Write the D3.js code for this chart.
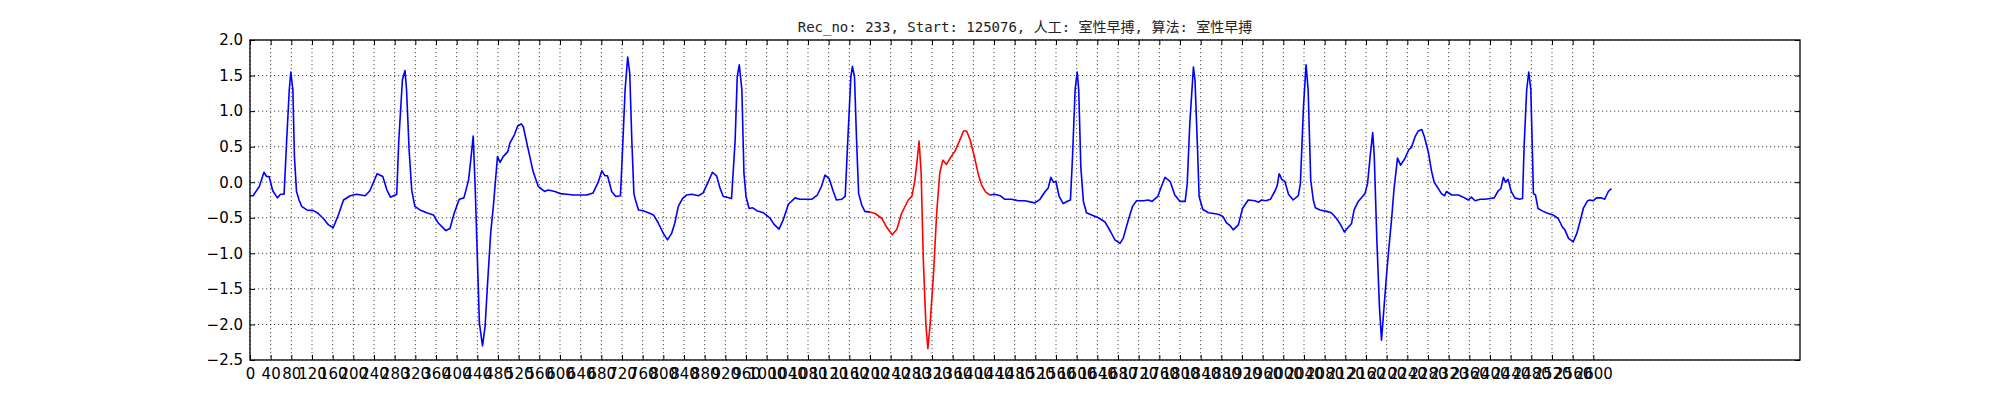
<!DOCTYPE html>
<html>
<head>
<meta charset="utf-8">
<script src="https://cdn.jsdelivr.net/npm/d3@7"></script>
<style>
  body { margin: 0; background: #fff; }
  svg { display: block; }
</style>
</head>
<body>
<svg id="chart" width="2000" height="400"></svg>
<script>
// sample index of each point
const sampleIdx = [
  0, 6, 18, 27, 32, 37, 44, 53, 59, 66, 71, 76, 79, 83, 86, 90, 95, 100, 110, 123,
  132, 142, 152, 161, 171, 181, 194, 206, 223, 232, 246, 257, 265, 272, 284, 288, 295, 300, 303, 308,
  313, 319, 329, 342, 355, 364, 379, 387, 395, 405, 414, 423, 428, 432, 436, 440, 444, 450, 455, 460,
  466, 471, 479, 484, 490, 499, 503, 512, 518, 525, 529, 537, 548, 558, 570, 577, 590, 600, 613, 626,
  639, 652, 664, 674, 681, 687, 692, 700, 708, 717, 721, 726, 731, 735, 739, 743, 746, 752, 761, 771,
  781, 790, 800, 808, 816, 822, 829, 837, 845, 855, 868, 877, 886, 895, 903, 910, 916, 923, 932, 939,
  943, 947, 952, 956, 960, 966, 973, 981, 994, 1006, 1014, 1024, 1032, 1042, 1055, 1064, 1077, 1087, 1098, 1106,
  1113, 1121, 1129, 1135, 1145, 1152, 1157, 1163, 1166, 1170, 1174, 1178, 1184, 1190, 1200, 1210, 1223, 1232, 1243, 1252,
  1261, 1274, 1281, 1287, 1292, 1295, 1299, 1303, 1308, 1312, 1316, 1323, 1329, 1335, 1341, 1348, 1357, 1364, 1372, 1381,
  1387, 1394, 1402, 1410, 1416, 1424, 1432, 1441, 1452, 1461, 1474, 1487, 1500, 1519, 1529, 1539, 1545, 1550, 1555, 1560,
  1566, 1574, 1584, 1588, 1592, 1597, 1601, 1604, 1608, 1613, 1619, 1629, 1642, 1655, 1666, 1674, 1684, 1690, 1700, 1708,
  1716, 1729, 1739, 1746, 1757, 1764, 1771, 1781, 1790, 1800, 1810, 1814, 1819, 1826, 1829, 1834, 1837, 1844, 1855, 1865,
  1874, 1883, 1890, 1897, 1903, 1913, 1921, 1932, 1945, 1952, 1958, 1966, 1975, 1984, 1988, 1992, 1997, 2003, 2010, 2019,
  2029, 2033, 2039, 2044, 2048, 2053, 2058, 2062, 2071, 2084, 2093, 2103, 2111, 2118, 2126, 2132, 2137, 2145, 2152, 2158,
  2163, 2168, 2173, 2176, 2181, 2186, 2190, 2195, 2200, 2204, 2210, 2214, 2221, 2227, 2235, 2243, 2248, 2255, 2261, 2268,
  2273, 2281, 2287, 2292, 2300, 2306, 2312, 2316, 2326, 2339, 2348, 2358, 2364, 2371, 2381, 2390, 2400, 2408, 2416, 2421,
  2426, 2430, 2435, 2441, 2448, 2457, 2463, 2466, 2471, 2475, 2479, 2482, 2484, 2488, 2493, 2503, 2513, 2522, 2532, 2540,
  2545, 2552, 2561, 2568, 2574, 2581, 2589, 2593, 2600, 2606, 2616, 2622, 2629, 2635
];

// ECG amplitude at those samples
const ecgValues = [
  -0.19, -0.19, -0.06, 0.14, 0.08, 0.08, -0.12, -0.22, -0.17, -0.17, 0.59, 1.30, 1.55, 1.30, 0.36, -0.13, -0.25, -0.34, -0.39, -0.40,
  -0.44, -0.51, -0.60, -0.64, -0.46, -0.25, -0.19, -0.17, -0.19, -0.12, 0.12, 0.08, -0.11, -0.21, -0.17, 0.59, 1.44, 1.57, 1.30, 0.45,
  -0.11, -0.34, -0.39, -0.43, -0.46, -0.57, -0.68, -0.65, -0.44, -0.24, -0.22, 0.03, 0.36, 0.65, -0.11, -1.05, -1.98, -2.30, -2.03, -1.40,
  -0.70, -0.34, 0.36, 0.28, 0.36, 0.43, 0.55, 0.67, 0.79, 0.82, 0.78, 0.51, 0.15, -0.06, -0.13, -0.11, -0.13, -0.16, -0.17, -0.18,
  -0.18, -0.18, -0.15, 0.00, 0.16, 0.09, 0.09, -0.13, -0.20, -0.19, 0.45, 1.30, 1.76, 1.53, 0.59, -0.16, -0.25, -0.39, -0.40, -0.43,
  -0.46, -0.57, -0.72, -0.81, -0.72, -0.58, -0.34, -0.23, -0.18, -0.17, -0.19, -0.15, -0.01, 0.14, 0.09, -0.09, -0.20, -0.21, -0.23, 0.59,
  1.48, 1.65, 1.30, 0.13, -0.20, -0.37, -0.36, -0.40, -0.43, -0.50, -0.59, -0.66, -0.53, -0.31, -0.22, -0.24, -0.24, -0.24, -0.18, -0.06,
  0.10, 0.05, -0.13, -0.25, -0.24, -0.20, 0.59, 1.48, 1.63, 1.48, 0.59, -0.16, -0.32, -0.41, -0.42, -0.44, -0.51, -0.63, -0.74, -0.66,
  -0.44, -0.25, -0.20, 0.03, 0.36, 0.58, 0.13, -1.05, -1.98, -2.34, -2.03, -1.28, -0.44, 0.13, 0.31, 0.25, 0.36, 0.43, 0.56, 0.72,
  0.72, 0.59, 0.36, 0.10, -0.04, -0.14, -0.18, -0.17, -0.19, -0.24, -0.24, -0.26, -0.26, -0.29, -0.24, -0.13, -0.08, 0.07, 0.00, 0.01,
  -0.20, -0.30, -0.26, -0.25, 0.36, 1.30, 1.55, 1.30, 0.22, -0.27, -0.43, -0.46, -0.50, -0.56, -0.70, -0.81, -0.86, -0.79, -0.53, -0.34,
  -0.26, -0.26, -0.25, -0.27, -0.20, -0.06, 0.07, 0.01, -0.18, -0.27, -0.27, -0.02, 0.83, 1.62, 1.44, 0.45, -0.20, -0.38, -0.43, -0.44,
  -0.45, -0.48, -0.57, -0.61, -0.67, -0.60, -0.37, -0.25, -0.26, -0.28, -0.25, -0.26, -0.24, -0.12, -0.05, 0.12, 0.04, 0.01, -0.17, -0.25,
  -0.19, -0.02, 1.06, 1.65, 1.30, 0.03, -0.25, -0.36, -0.39, -0.41, -0.43, -0.51, -0.60, -0.70, -0.63, -0.58, -0.39, -0.27, -0.21, -0.16,
  -0.02, 0.36, 0.70, 0.36, -0.81, -1.75, -2.22, -1.75, -1.28, -0.95, -0.48, -0.11, 0.34, 0.24, 0.33, 0.46, 0.49, 0.64, 0.72, 0.74,
  0.64, 0.41, 0.15, 0.00, -0.09, -0.16, -0.19, -0.13, -0.18, -0.18, -0.21, -0.25, -0.21, -0.26, -0.24, -0.24, -0.23, -0.22, -0.12, -0.09,
  0.07, 0.00, 0.04, -0.13, -0.22, -0.24, -0.23, 0.50, 1.30, 1.55, 1.30, 0.45, -0.16, -0.18, -0.37, -0.41, -0.44, -0.46, -0.51, -0.63,
  -0.67, -0.79, -0.84, -0.72, -0.56, -0.36, -0.26, -0.25, -0.26, -0.22, -0.22, -0.24, -0.13, -0.09
];

// beat flagged by both annotator and algorithm (drawn red)
const pvcStart = 1200;
const pvcEnd = 1432;

const xTicks = d3.range(0, 2640, 40);
const yTicks = [-2.5, -2.0, -1.5, -1.0, -0.5, 0.0, 0.5, 1.0, 1.5, 2.0];
const titleText = 'Rec_no: 233, Start: 125076, 人工: 室性早搏, 算法: 室性早搏';

const margin = { top: 40, right: 200, bottom: 40, left: 250 };
const width = 2000 - margin.left - margin.right;
const height = 400 - margin.top - margin.bottom;

const svg = d3.select('#chart');
const g = svg.append('g').attr('transform', `translate(${margin.left},${margin.top})`);

const x = d3.scaleLinear().domain([0, 3000]).range([0, width]);
const y = d3.scaleLinear().domain([-2.5, 2.0]).range([height, 0]);

// dotted grid
const grid = g.append('g')
  .attr('stroke', '#000')
  .attr('stroke-opacity', 0.8)
  .attr('stroke-width', 0.9)
  .attr('stroke-dasharray', '1.2,2.8');
grid.selectAll('.gx').data(xTicks).enter().append('line')
  .attr('x1', d => x(d)).attr('x2', d => x(d))
  .attr('y1', 0).attr('y2', height);
grid.selectAll('.gy').data(yTicks).enter().append('line')
  .attr('x1', 0).attr('x2', width)
  .attr('y1', d => y(d)).attr('y2', d => y(d));

// signal: blue before and after the flagged beat, red across it
const points = sampleIdx.map((s, i) => ({ s: s, v: ecgValues[i] }));
const segments = [
  { color: '#0000ff', pts: points.filter(d => d.s <= pvcStart) },
  { color: '#0000ff', pts: points.filter(d => d.s >= pvcEnd) },
  { color: '#ff0000', pts: points.filter(d => d.s >= pvcStart && d.s <= pvcEnd) }
];

const line = d3.line().x(d => x(d.s)).y(d => y(d.v));

g.append('g').selectAll('path')
  .data(segments)
  .enter().append('path')
  .attr('fill', 'none')
  .attr('stroke', d => d.color)
  .attr('stroke-width', 1.6)
  .attr('stroke-linejoin', 'round')
  .attr('d', d => line(d.pts));

// axes, ticks pointing inward on all four sides
const font = '"DejaVu Sans", sans-serif';

const xAxis = g.append('g')
  .attr('transform', `translate(0,${height})`)
  .call(d3.axisBottom(x).tickValues(xTicks).tickFormat(d3.format('d')).tickSize(-5).tickPadding(8));
const yAxis = g.append('g')
  .call(d3.axisLeft(y).tickValues(yTicks).tickFormat(d3.format('.1f')).tickSize(-5).tickPadding(7));
g.append('g')
  .call(d3.axisTop(x).tickValues(xTicks).tickFormat('').tickSize(-5));
g.append('g')
  .attr('transform', `translate(${width},0)`)
  .call(d3.axisRight(y).tickValues(yTicks).tickFormat('').tickSize(-5));

g.selectAll('.domain').remove();
g.selectAll('.tick line').attr('stroke', '#000').attr('stroke-width', 1);
[xAxis, yAxis].forEach(a => a.selectAll('text')
  .attr('fill', '#000')
  .style('font-family', font)
  .style('font-size', '15px'));

g.append('rect')
  .attr('width', width)
  .attr('height', height)
  .attr('fill', 'none')
  .attr('stroke', '#000')
  .attr('stroke-width', 1.3);

svg.append('text')
  .attr('x', margin.left + width / 2)
  .attr('y', 32)
  .attr('text-anchor', 'middle')
  .attr('fill', '#222')
  .style('font-family', '"DejaVu Sans Mono", "Liberation Mono", "Noto Sans CJK SC", monospace')
  .style('font-size', '14px')
  .text(titleText);
</script>
</body>
</html>
